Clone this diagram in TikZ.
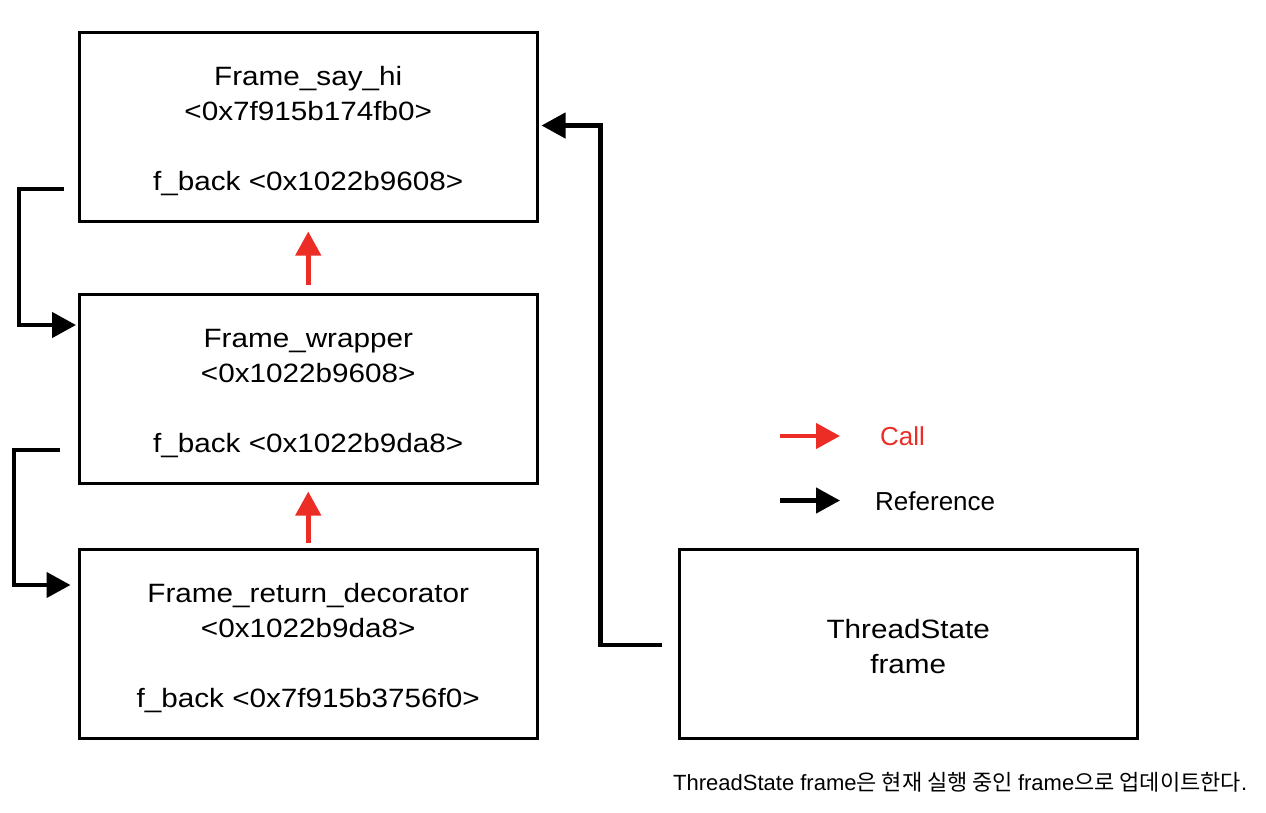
\documentclass[tikz,border=0pt]{standalone}
\usepackage{fontspec}
\setmainfont[FakeStretch=1.12]{Liberation Sans}
\newfontfamily\plainfont{Liberation Sans}
\newfontfamily\krfont{Noto Sans CJK KR}
\usetikzlibrary{arrows.meta}
\definecolor{callred}{RGB}{235,45,37}
\newcommand{\topstrut}[1]{\rule{0pt}{#1}}
\tikzset{
  box/.style={draw=black, line width=3pt, minimum width=458.5pt, minimum height=189pt,
    align=center, inner sep=0pt, font=\fontsize{26.5}{35}\selectfont},
  refarrow/.style={draw=black, line width=4.5pt, -{Triangle[length=24pt,width=25pt]}},
  callarrow/.style={draw=callred, line width=4.5pt, -{Triangle[length=24pt,width=25pt]}},
  legendtext/.style={anchor=west, inner sep=0pt, font=\plainfont\fontsize{26}{30}\selectfont},
}
\begin{document}
\begin{tikzpicture}[x=1pt, y=-1pt]
\useasboundingbox (0,0) rectangle (1266,812);
\node[box] (b1) at (308.25,127) {\topstrut{27.5pt}Frame\_say\_hi\\<0x7f915b174fb0>\\[35pt]f\_back <0x1022b9608>};
\node[box] (b2) at (308.25,388.5) {\topstrut{27.5pt}Frame\_wrapper\\<0x1022b9608>\\[35pt]f\_back <0x1022b9da8>};
\node[box] (b3) at (308.25,644) {\topstrut{27.5pt}Frame\_return\_decorator\\<0x1022b9da8>\\[35pt]f\_back <0x7f915b3756f0>};
\node[box] (b4) at (908.25,644) {\topstrut{23.5pt}ThreadState\\frame};

% call arrows
\draw[callarrow] ([shift={(0,-8)}]b2.north) -- ([shift={(0,8.5)}]b1.south);
\draw[callarrow] ([shift={(0,-5)}]b3.north) -- ([shift={(0,7)}]b2.south);

% reference arrows
\draw[refarrow] ([shift={(-13.5,-34)}]b1.south west) -- ++(-45,0) |- ([shift={(-1.5,32.5)}]b2.north west);
\draw[refarrow] ([shift={(-18,-34.5)}]b2.south west) -- ++(-45.5,0) |- ([shift={(-7,37)}]b3.north west);
\draw[refarrow] ([shift={(-16,1)}]b4.west) -- ++(-61,0) |- ([shift={(2.5,-1.5)}]b1.east);

% legend
\coordinate (lc1) at (780,436);
\coordinate (lc2) at (840,436);
\coordinate (lr1) at (780,500.5);
\coordinate (lr2) at (840,500.5);
\draw[callarrow] (lc1) -- (lc2);
\draw[refarrow] (lr1) -- (lr2);
\node[legendtext, text=callred] (lcall) at (880,436) {Call};
\node[legendtext] (lref) at (875,501.5) {Reference};

% caption
\node[anchor=base west, inner sep=0pt, font=\plainfont\fontsize{22}{26}\selectfont] (cap) at (673,790.5)
  {ThreadState frame{\krfont 은 현재 실행 중인 }frame{\krfont 으로 업데이트한다}.};
\end{tikzpicture}
\end{document}
